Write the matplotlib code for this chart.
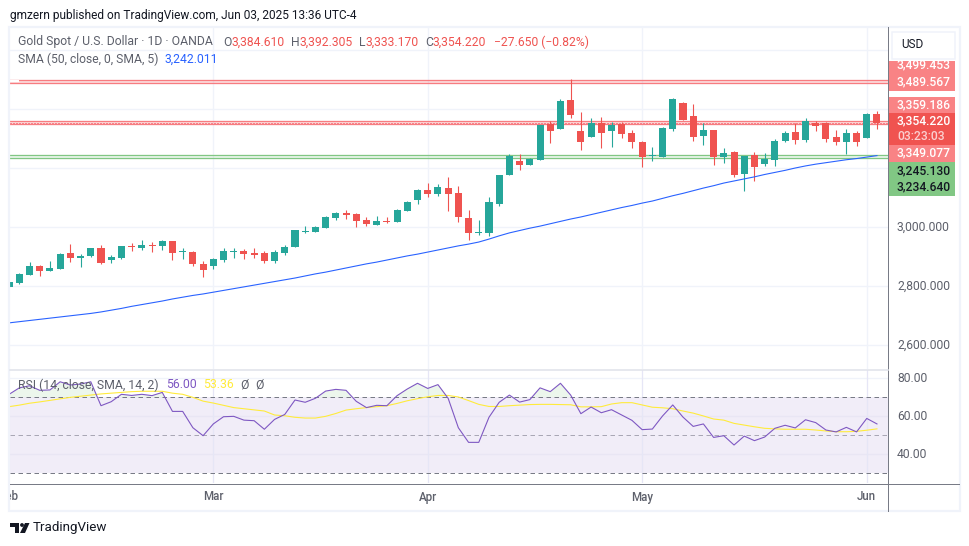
import matplotlib
matplotlib.use("Agg")
import matplotlib.pyplot as plt
import numpy as np
from matplotlib.patches import Rectangle, Polygon, Circle

plt.rcParams['font.family'] = ['Roboto', 'DejaVu Sans']

W, H = 970, 546

# daily candles, XAU/USD
opens = [2798,2811,2838,2868,2852,2859,2912,2896,2903,2929,2889,2896,2935,2930,2940,2937,2952,2914,2915,2874,2869,2889,2916,2919,2912,2912,2886,2913,2933,
         2984,2984,2998,3032,3047,3044,3024,3008,3020,3018,3055,3093,3125,3113,3132,3115,3030,2981,2981,3079,3177,3224,3211,3228,3349,3333,3430,3325,3306,3352,3326,3349,3319,3288,3242,3238,3333,3420,3376,3309,3329,3237,3254,3181,3244,3215,3228,3293,3322,3296,3352,3351,3305,3289,3319,3303,3384.61]
highs = [2815,2844,2881,2871,2885,2911,2942,2908,2929,2938,2904,2935,2946,2956,2949,2956,2952,2929,2919,2885,2895,2929,2929,2925,2929,2919,2922,2939,2990,
         3003,3003,3037,3051,3058,3047,3034,3037,3034,3061,3088,3129,3149,3146,3169,3139,3058,3024,3102,3176,3247,3247,3234,3346,3359,3434,3502,3390,3369,3373,3356,3356,3329,3291,3271,3339,3437,3424,3417,3352,3329,3268,3258,3241,3254,3251,3298,3325,3352,3369,3359,3356,3329,3332,3325,3386,3392.305]
lows = [2797,2808,2838,2835,2852,2859,2882,2865,2899,2876,2879,2893,2920,2923,2916,2923,2889,2893,2869,2832,2859,2882,2896,2893,2896,2879,2879,2906,2933,
        2981,2984,2998,3025,3028,3001,3004,3008,3015,3018,3055,3079,3103,3106,3055,3018,2957,2974,2970,3072,3177,3194,3211,3228,3286,3333,3371,3262,3306,3269,3272,3303,3269,3204,3225,3238,3326,3363,3293,3279,3211,3218,3170,3123,3157,3208,3208,3289,3282,3289,3326,3289,3279,3247,3276,3303,3333.17]
closes = [2813,2841,2868,2852,2861,2908,2896,2902,2929,2879,2898,2935,2932,2939,2937,2952,2913,2917,2876,2855,2891,2919,2920,2909,2906,2886,2915,2932,2990,
          2986,3000,3034,3047,3041,3021,3011,3020,3017,3058,3085,3125,3113,3135,3113,3035,2981,2983,3085,3176,3241,3210,3230,3346,3326,3427,3381,3289,3352,3320,3346,3316,3289,3238,3244,3335,3434,3363,3306,3329,3236,3251,3177,3241,3204,3230,3291,3319,3296,3359,3343,3299,3289,3319,3289,3383,3354.22]

sma50 = [2675,2679,2683,2687,2691,2695,2699,2703,2707,2712,2718,2724,2731,2737,2743,2749,2756,2762,2768,2773,2779,2785,2791,2797,2803,2809,2815,2821,2827,
         2834,2841,2847,2854,2861,2868,2875,2881,2888,2895,2902,2908,2915,2922,2929,2936,2942,2949,2959,2970,2980,2988,2996,3003,3011,3019,3027,3034,3042,3050,3058,
         3066,3073,3081,3088,3097,3106,3114,3123,3132,3140,3149,3156,3163,3170,3178,3185,3192,3200,3207,3213,3218,3223,3228,3232,3237,3242]

rsi = [71.6,75,76.1,73.7,73.9,78.2,76.5,77,78.2,65.6,67.7,71.6,71,71.6,70.9,72.6,62.6,62.6,54,49.8,56,59.8,60,58,57.7,53.2,58.4,61,68.6,
       67.4,69.5,73.3,74.2,73.7,67.9,64.6,65.8,65.6,70.9,74.4,77.4,74.7,76.7,69.5,54,46.3,46.3,59.5,67.4,71.2,67.5,68.8,75,73,77.4,71.2,61.4,64.9,61.9,63.5,
       60.7,57.9,53,53.3,60.2,66,59.6,54.7,56,48.9,49.8,44.9,49.6,47.2,49.1,53.7,55.3,53.9,58.2,56.7,52.8,51.8,54.2,51.8,58.9,56]
rsi_ma = [65.1,65.9,66.9,67.6,68.4,69.2,70,70.6,71.2,71.8,72.2,72.6,73,73.2,73.2,73.2,72.2,71.6,70,68,67,65.8,64.6,64,63.4,62.8,60.7,60.3,59.5,
          59.1,59.1,60,61.5,63.3,64,64.6,65.1,65.6,66.8,68.2,69.3,70.3,71,71,70.2,68.3,66.3,65.2,65.2,65.6,65.9,66.2,66.3,66.3,66.2,66.1,65,65,65.1,66.5,
          67.2,67.2,66,64.8,64.5,64,62.8,61.7,60.2,58.6,58,56.3,55.4,54.5,53.7,53.4,53.2,53.2,53.2,52.8,52.3,51.9,51.9,52.1,52.7,53.4]

# drawn levels
red_zones = [(3489.567, 3499.453), (3349.077, 3359.186)]
green_zone = (3234.640, 3245.130)
last_price = 3354.22

price_ticks = [2600, 2800, 3000, 3200, 3400, 3600]
price_labels = ["2,600.000", "2,800.000", "3,000.000"]
rsi_ticks = [40, 60, 80]
rsi_labels = ["40.00", "60.00", "80.00"]
month_pos = [0, 20, 41, 62, 84]
month_names = ["Feb", "Mar", "Apr", "May", "Jun"]

GREEN = "#26a69a"
RED = "#ef5350"
GRID = "#f0f3fa"
AXIS = "#787b86"
TXT = "#5d606b"
px = 0.72


def pane(x0, y0, x1, y1):
    # axes from pixel box, y measured from the top
    ax = fig.add_axes([x0 / W, 1 - y1 / H, (x1 - x0) / W, (y1 - y0) / H])
    ax.set_axis_off()
    return ax


fig = plt.figure(figsize=(W / 100, H / 100), dpi=100, facecolor="white")
x = np.arange(len(closes))
xlim = (0.088, 86.08)

# ---- price pane
ax = pane(10, 28, 888, 369)
ax.set_xlim(*xlim)
ax.set_ylim(2518.6, 3674.6)
for p in price_ticks:
    ax.axhline(p, color=GRID, lw=1.4 * px, zorder=1)
for m in month_pos[1:]:
    ax.axvline(m, color=GRID, lw=1.4 * px, zorder=1)

for lo, hi in red_zones:
    ax.axhspan(lo, hi, color="#f77c80", alpha=0.25, lw=0, zorder=2)
    ax.axhline(lo, color="#f77c80", lw=1.3 * px, zorder=2)
    ax.axhline(hi, color="#f77c80", lw=1.3 * px, zorder=2)
# top zone box only starts at the second candle
ax.fill_between([xlim[0], 1], red_zones[0][0] + 2, red_zones[0][1] - 2, color="white", lw=0, zorder=2)
ax.axhspan(green_zone[0], green_zone[1], color="#81c784", alpha=0.12, lw=0, zorder=2)
ax.axhline(green_zone[0], color="#81c784", lw=1.3 * px, zorder=2)
ax.axhline(green_zone[1], color="#81c784", lw=1.3 * px, zorder=2)
ax.axhline(last_price, color="#f23645", lw=1 * px, ls=(0, (1, 2)), zorder=2)

o = np.array(opens)
c = np.array(closes)
cols = [GREEN if b >= a else RED for a, b in zip(opens, closes)]
ax.vlines(x, lows, highs, colors=cols, lw=1.1 * px, zorder=3)
ax.bar(x, np.abs(c - o), bottom=np.minimum(o, c), width=0.69, color=cols, lw=0, zorder=4)
ax.plot(x, sma50, color="#2962ff", lw=1.1 * px, zorder=5)

# ---- RSI pane
ar = pane(10, 370, 888, 483)
ar.set_xlim(*xlim)
ar.set_ylim(24.9, 84.4)
ar.axhspan(30, 70, color="#7e57c2", alpha=0.1, lw=0, zorder=1)
for t in rsi_ticks:
    ar.axhline(t, color="#e9e6f4" if t < 70 else GRID, lw=1.3 * px, zorder=1)
for m in month_pos[1:]:
    ar.axvline(m, color="#e6e6f6", lw=1.3 * px, zorder=1)
rsi_arr = np.array(rsi)
ar.fill_between(x, 70, rsi_arr, where=rsi_arr > 70, interpolate=True, color="#66bb6a", alpha=0.12, lw=0, zorder=2)
ar.axhline(70, color=AXIS, lw=1 * px, ls=(0, (4.5, 3.5)), zorder=2)
ar.axhline(50, color="#a9a7b5", lw=1 * px, ls=(0, (4.5, 3.5)), zorder=2)
ar.axhline(30, color=AXIS, lw=1 * px, ls=(0, (4.5, 3.5)), zorder=2)
ar.plot(x, rsi_ma, color="#ffeb3b", lw=1.1 * px, zorder=3)
ar.plot(x, rsi, color="#7e57c2", lw=1.1 * px, zorder=4)

# ---- time axis
at = pane(10, 484, 888, 510)
at.set_xlim(*xlim)
at.set_ylim(0, 1)
for m, n in zip(month_pos, month_names):
    at.text(m, 0.5, n, ha="center", va="center", fontsize=8.3, color=TXT, fontweight="medium", clip_on=True)

# ---- overlay in pixel coordinates, frame, labels
ov = fig.add_axes([0, 0, 1, 1], zorder=10)
ov.set_xlim(0, W)
ov.set_ylim(H, 0)
ov.set_axis_off()
ov.patch.set_alpha(0)

ov.add_patch(Rectangle((9, 26.5), 951, 484.5, fill=False, ec=GRID, lw=2.2 * px))
ov.plot([888.5, 888.5], [27, 511], color=AXIS, lw=1 * px)
ov.plot([10, 959], [483.5, 483.5], color=AXIS, lw=1 * px)
ov.plot([10, 888], [369.5, 369.5], color="#e0e3eb", lw=1.6 * px)

# price scale
ov.add_patch(Rectangle((892.5, 31.5), 63, 27, fc="white", ec=GRID, lw=1.5 * px))
ov.text(901, 45, "USD", fontsize=8.5, color="#131722", va="center")
SALMON = "#f98385"
boxes = [(61, 91, SALMON), (97, 113, SALMON), (113, 145, "#f05350"), (145, 162, SALMON), (162, 196, "#81c784")]
for y0, y1, col in boxes:
    ov.add_patch(Rectangle((889, y0), 66, y1 - y0, fc=col, ec="none"))
tags = [("3,489.567", 82, "white"), ("3,359.186", 105, "white"),
        ("3,354.220", 121, "white"), ("03:23:03", 136, "#fbd0d0"), ("3,349.077", 152.5, "white"),
        ("3,245.130", 170.5, "#131722"), ("3,234.640", 187, "#131722")]
for s, y, col in tags:
    ov.text(897, y, s, fontsize=8.7, color=col, va="center", fontweight="medium")
# top tag is cut by the USD box edge in the reference
top_tag = ov.text(897, 65, "3,499.453", fontsize=8.7, color="white", va="center", fontweight="medium")
top_tag.set_clip_path(Rectangle((889, 61), 66, 30, transform=ov.transData))
for s, p in zip(price_labels, [345, 286, 227]):
    ov.text(897, p, s, fontsize=8.7, color=TXT, va="center")
for s, y in zip(rsi_labels, [455, 417, 379]):
    ov.text(897, y, s, fontsize=8.7, color=TXT, va="center")

# legends
ov.text(10, 15, "gmzern published on TradingView.com, Jun 03, 2025 13:36 UTC-4", fontsize=8.6, color="#131722", va="center")
ov.text(18, 42, "Gold Spot / U.S. Dollar · 1D · OANDA", fontsize=8.8, color=TXT, va="center")
for s, xp, col in [("O", 223, TXT), ("3,384.610", 231.5, RED), ("H", 291, TXT), ("3,392.305", 299.5, RED),
                   ("L", 359, TXT), ("3,333.170", 366, RED), ("C", 425, TXT), ("3,354.220", 432.5, RED),
                   ("−27.650 (−0.82%)", 494, RED)]:
    ov.text(xp, 42, s, fontsize=8.7, color=col, va="center")
ov.text(18, 59, "SMA (50, close, 0, SMA, 5)", fontsize=8.7, color=TXT, va="center")
ov.text(165, 59, "3,242.011", fontsize=8.7, color="#2962ff", va="center")
ov.text(18, 385, "RSI (14, close, SMA, 14, 2)", fontsize=8.8, color=TXT, va="center")
ov.text(166, 385, "56.00", fontsize=8.8, color="#7e57c2", va="center")
ov.text(203, 385, "53.36", fontsize=8.8, color="#ffeb3b", va="center")
ov.text(240, 385, "Ø", fontsize=8.8, color=TXT, va="center")
ov.text(255, 385, "Ø", fontsize=8.8, color=TXT, va="center")

# logo and name
ov.add_patch(Polygon([(10, 523), (19, 523), (19, 533), (15, 533), (15, 527), (10, 527)], fc="#131722", ec="none"))
ov.add_patch(Circle((22, 525), 1.9, fc="#131722", ec="none"))
ov.add_patch(Polygon([(25, 523), (29.5, 523), (25, 533), (20, 533)], fc="#131722", ec="none"))
ov.text(33, 528, "TradingView", fontsize=9.6, color="#131722", va="center")

fig.savefig("out.png", dpi=100)
